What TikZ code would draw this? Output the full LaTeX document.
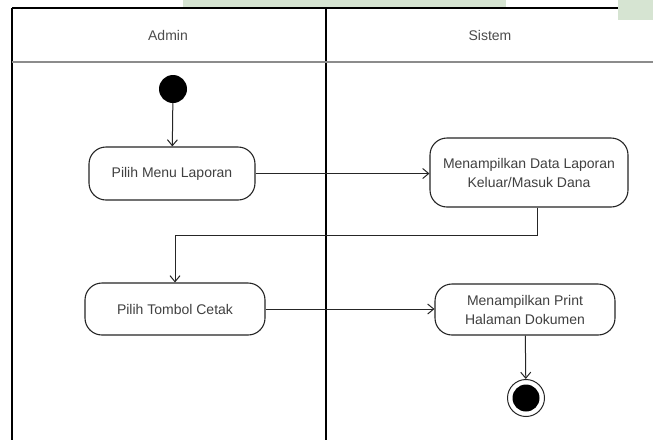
\documentclass[tikz,border=0pt]{standalone}
\usepackage{fontspec}
\setmainfont{Liberation Sans}
\usetikzlibrary{arrows.meta,calc}
\definecolor{wm}{RGB}{214,228,210}
\begin{document}
\begin{tikzpicture}[x=1pt,y=-1pt,
  act/.style={draw=black!85,line width=1.1pt,rounded corners=17pt,align=center,
    font=\fontsize{14}{19}\selectfont,text=black!75,inner sep=0pt},
  flow/.style={draw=black!85,line width=1pt,-{Straight Barb[length=6pt,width=10pt]}},
  lane/.style={draw=black,line width=1.6pt},
  hdr/.style={font=\fontsize{14}{17}\selectfont,text=black!70}]
\useasboundingbox (0,0) rectangle (653,440);
\fill[white] (0,0) rectangle (653,440);
% watermark traces
\fill[wm] (183,0) rectangle (506,7);
\fill[wm] (618,0) rectangle (653,20);
% swimlanes
\draw[lane] (12,8) -- (618,8);
\draw[lane] (12,8) -- (12,440);
\draw[lane] (326,8) -- (326,440);
\draw[draw=black!45,line width=1.4pt] (12,62) -- (653,62);
\node[hdr] (hA) at (168,35) {Admin};
\node[hdr] (hS) at (490,35) {Sistem};
% nodes
\node[circle,fill=black,minimum size=28pt,inner sep=0pt] (start) at (173,89) {};
\node[act,minimum width=166pt,minimum height=53pt] (b1) at (172,173.5) {Pilih Menu Laporan};
\node[act,minimum width=198pt,minimum height=69pt] (b2) at (529,172.5) {Menampilkan Data Laporan\\Keluar/Masuk Dana};
\node[act,minimum width=180pt,minimum height=52pt] (b3) at (175,309) {Pilih Tombol Cetak};
\node[act,minimum width=180pt,minimum height=51pt] (b4) at (525,309.5) {Menampilkan Print\\Halaman Dokumen};
\node[circle,draw=black!85,line width=1pt,minimum size=37pt,inner sep=0pt] (end) at (526,398) {};
\node[circle,fill=black,minimum size=27pt,inner sep=0pt] (endin) at (end) {};
% connectors
\draw[flow] (start) -- (b1);
\draw[flow] (b1.east) -- (b1.east -| b2.west);
\draw[flow] ([xshift=8pt]b2.south) -- ++(0,28) -| (b3.north);
\draw[flow] (b3.east) -- (b3.east -| b4.west);
\draw[flow] (b4) -- (end);
\end{tikzpicture}
\end{document}
